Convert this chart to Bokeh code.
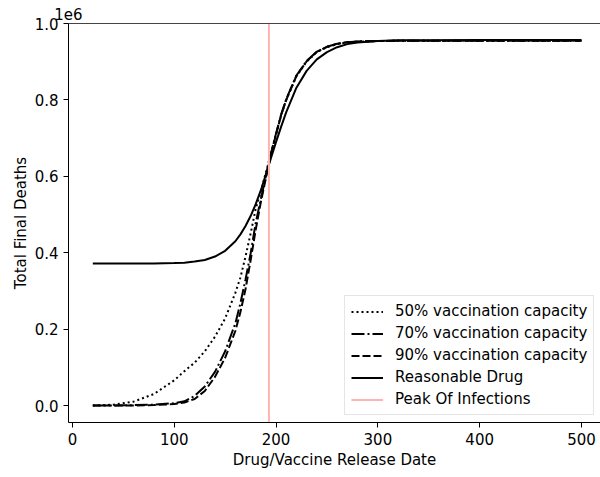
from bokeh.plotting import figure
from bokeh.models import (Range1d, LinearAxis, FixedTicker, NumeralTickFormatter,
                          Legend, LegendItem)
from bokeh.embed import file_html
from bokeh.resources import INLINE

# ---- data (values in units of 1e6 deaths) ----
release_day = [20, 40, 60, 80, 100, 110, 120, 130, 140, 150, 160, 165, 170, 175,
               180, 185, 190, 195, 200, 205, 210, 220, 230, 240, 250, 260, 270,
               280, 300, 320, 350, 400, 450, 500]

vacc_50 = [0.000, 0.002, 0.010, 0.030, 0.066, 0.090, 0.112, 0.142, 0.180, 0.228,
           0.295, 0.335, 0.390, 0.450, 0.515, 0.560, 0.610, 0.660, 0.710, 0.760,
           0.800, 0.862, 0.900, 0.925, 0.938, 0.946, 0.950, 0.952, 0.954, 0.955,
           0.955, 0.955, 0.955, 0.955]

vacc_70 = [0.000, 0.000, 0.001, 0.002, 0.006, 0.011, 0.025, 0.050, 0.088, 0.142,
           0.215, 0.268, 0.330, 0.398, 0.478, 0.540, 0.600, 0.660, 0.712, 0.762,
           0.802, 0.864, 0.902, 0.926, 0.939, 0.947, 0.951, 0.953, 0.954, 0.955,
           0.955, 0.955, 0.955, 0.955]

vacc_90 = [0.000, 0.000, 0.000, 0.001, 0.004, 0.008, 0.017, 0.038, 0.075, 0.125,
           0.195, 0.245, 0.305, 0.380, 0.460, 0.532, 0.595, 0.657, 0.710, 0.760,
           0.800, 0.863, 0.901, 0.926, 0.939, 0.947, 0.951, 0.953, 0.954, 0.955,
           0.955, 0.955, 0.955, 0.955]

drug = [0.372, 0.372, 0.372, 0.372, 0.373, 0.374, 0.377, 0.381, 0.390, 0.405,
        0.430, 0.448, 0.470, 0.496, 0.527, 0.563, 0.605, 0.648, 0.690, 0.730,
        0.768, 0.832, 0.876, 0.906, 0.925, 0.938, 0.946, 0.950, 0.954, 0.956,
        0.956, 0.957, 0.957, 0.957]

peak_day = 193

x_ticks = [0, 100, 200, 300, 400, 500]
y_ticks = [0.0, 0.2, 0.4, 0.6, 0.8, 1.0]

x_start, x_end = -3.9, 518.7
y_start, y_end = -0.0445, 1.0

FONT = "DejaVu Sans"
FS = "15px"

p = figure(width=600, height=477, output_backend="svg", toolbar_location=None,
           x_range=Range1d(x_start, x_end), y_range=Range1d(y_start, y_end),
           min_border_left=68, min_border_bottom=55, min_border_top=23,
           min_border_right=0, x_axis_type=None, y_axis_type=None)
p.outline_line_color = None
p.xgrid.grid_line_color = None
p.ygrid.grid_line_color = None
p.background_fill_color = "white"
p.border_fill_color = "white"


def style_axis(ax):
    ax.axis_line_color = "black"
    ax.axis_line_width = 1
    ax.major_tick_line_color = "black"
    ax.major_tick_out = 5
    ax.major_tick_in = 0
    ax.minor_tick_line_color = None
    ax.major_label_text_font = FONT
    ax.major_label_text_font_size = FS
    ax.major_label_text_color = "black"
    ax.axis_label_text_font = FONT
    ax.axis_label_text_font_size = FS
    ax.axis_label_text_font_style = "normal"
    ax.axis_label_text_color = "black"


xaxis = LinearAxis(ticker=FixedTicker(ticks=x_ticks), axis_label="Drug/Vaccine Release Date")
style_axis(xaxis)
xaxis.major_label_standoff = 5
xaxis.axis_label_standoff = 3
p.add_layout(xaxis, "below")

yaxis = LinearAxis(ticker=FixedTicker(ticks=y_ticks), axis_label="Total Final Deaths",
                   formatter=NumeralTickFormatter(format="0.0"))
style_axis(yaxis)
yaxis.major_label_standoff = 5
yaxis.axis_label_standoff = 2
p.add_layout(yaxis, "left")

top = LinearAxis(ticker=FixedTicker(ticks=[]))
style_axis(top)
top.axis_line_color = "#444444"
top.major_tick_out = 0
top.major_label_standoff = 0
top.major_label_text_font_size = "0px"

aligned = False
try:
    top.axis_label_align = "start"
    aligned = True
except Exception:
    aligned = False

if aligned:
    top.axis_label = "1e6"
    top.axis_label_standoff = 4
else:
    p.title.text = "1e6"
    p.title.align = "left"
    p.title.text_font = FONT
    p.title.text_font_size = FS
    p.title.text_font_style = "normal"
    p.title.text_color = "black"
    p.title.standoff = 0
p.add_layout(top, "above")

r50 = p.line(release_day, vacc_50, line_color="black", line_width=2, line_dash="2 3")
r70 = p.line(release_day, vacc_70, line_color="black", line_width=2, line_dash="13 3 2 3")
r90 = p.line(release_day, vacc_90, line_color="black", line_width=2, line_dash="8 3")
rdrug = p.line(release_day, drug, line_color="black", line_width=2)
rpeak = p.line([peak_day, peak_day], [y_start, y_end], line_color="#ffb3b3", line_width=2)

legend = Legend(items=[
    LegendItem(label="50% vaccination capacity", renderers=[r50]),
    LegendItem(label="70% vaccination capacity", renderers=[r70]),
    LegendItem(label="90% vaccination capacity", renderers=[r90]),
    LegendItem(label="Reasonable Drug", renderers=[rdrug]),
    LegendItem(label="Peak Of Infections", renderers=[rpeak]),
], location=(276, 7))
legend.label_text_font = FONT
legend.label_text_font_size = FS
legend.label_text_color = "black"
legend.glyph_width = 32
legend.glyph_height = 17
legend.label_height = 17
legend.label_standoff = 12
legend.spacing = 4
legend.padding = 6
legend.margin = 0
legend.border_line_color = "#cccccc"
legend.border_line_width = 1
legend.background_fill_color = "white"
legend.background_fill_alpha = 0.8
p.add_layout(legend, "center")

open("out.html", "w").write(file_html(p, INLINE))
